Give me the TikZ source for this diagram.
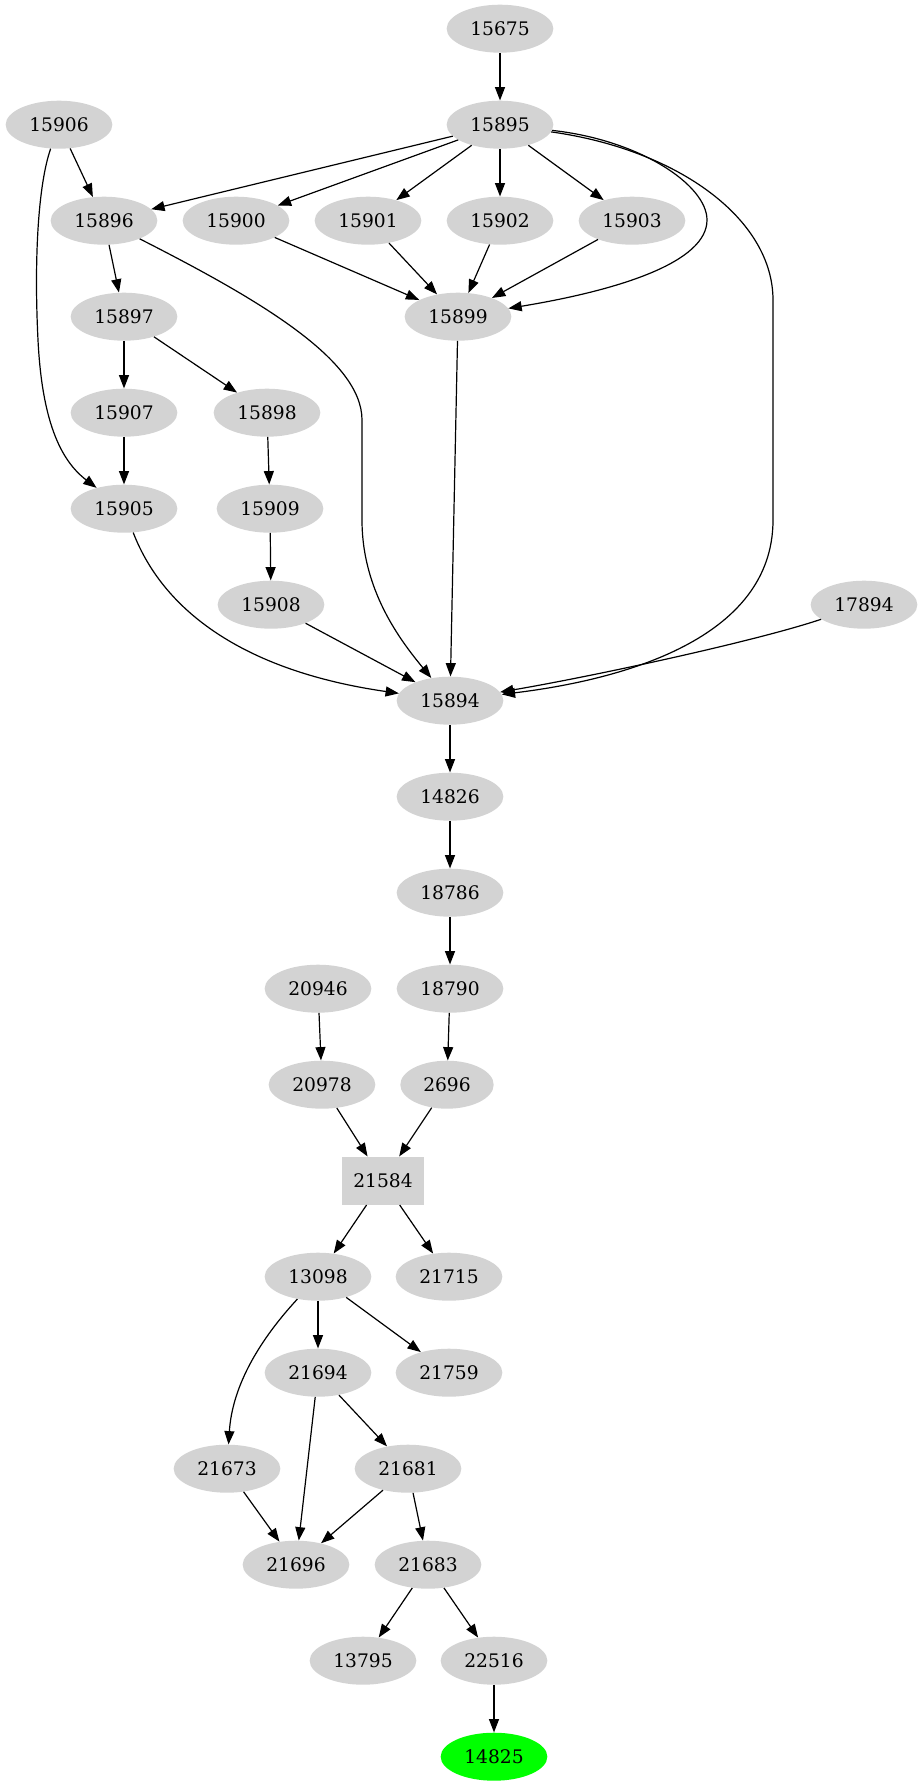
\documentclass[tikz,border=0pt]{standalone}
\usepackage{fontspec}
\setmainfont{DejaVu Serif}
\usepackage{tikz}
\usetikzlibrary{shapes.geometric,arrows.meta}
\definecolor{nodegray}{RGB}{211,211,211}
\definecolor{goalgreen}{RGB}{0,255,0}

\begin{document}
\begin{tikzpicture}[x=0.75pt,y=-0.75pt,
    vert/.style={ellipse,fill=nodegray,inner sep=0pt,minimum width=80pt,minimum height=36pt,font=\fontsize{14pt}{16pt}\selectfont},
    rootbox/.style={rectangle,fill=nodegray,inner sep=0pt,minimum width=61.5pt,minimum height=36pt,font=\fontsize{14pt}{16pt}\selectfont},
    link/.style={-{Triangle[length=10pt,width=7.5pt]},line width=0.9pt}]

    \useasboundingbox (0,0) rectangle (923,1787);

    \node[vert] (n15675) at (500,28.7) {15675};
    \node[vert] (n15906) at (59,124.7) {15906};
    \node[vert] (n15895) at (500,124.7) {15895};
    \node[vert] (n15896) at (104,220.7) {15896};
    \node[vert] (n15900) at (236,220.7) {15900};
    \node[vert] (n15901) at (368,220.7) {15901};
    \node[vert] (n15902) at (500,220.7) {15902};
    \node[vert] (n15903) at (632,220.7) {15903};
    \node[vert] (n15897) at (124,316.7) {15897};
    \node[vert] (n15899) at (458,316.7) {15899};
    \node[vert] (n15907) at (124,412.7) {15907};
    \node[vert] (n15898) at (267,412.7) {15898};
    \node[vert] (n15905) at (124,508.7) {15905};
    \node[vert] (n15909) at (270,508.7) {15909};
    \node[vert] (n15908) at (271,604.7) {15908};
    \node[vert] (n17894) at (864,604.7) {17894};
    \node[vert] (n15894) at (450,700.7) {15894};
    \node[vert] (n14826) at (450,796.7) {14826};
    \node[vert] (n18786) at (450,892.7) {18786};
    \node[vert] (n20946) at (318,988.7) {20946};
    \node[vert] (n18790) at (450,988.7) {18790};
    \node[vert] (n20978) at (322,1084.7) {20978};
    \node[vert,minimum width=70pt] (n2696) at (447,1084.7) {2696};
    \node[rootbox] (n21584) at (383,1180.7) {21584};
    \node[vert] (n13098) at (318,1276.7) {13098};
    \node[vert] (n21715) at (449,1276.7) {21715};
    \node[vert] (n21694) at (318,1372.7) {21694};
    \node[vert] (n21759) at (449,1372.7) {21759};
    \node[vert] (n21673) at (227,1468.7) {21673};
    \node[vert] (n21681) at (408,1468.7) {21681};
    \node[vert] (n21696) at (296,1564.7) {21696};
    \node[vert] (n21683) at (428,1564.7) {21683};
    \node[vert] (n13795) at (363,1660.7) {13795};
    \node[vert] (n22516) at (494,1660.7) {22516};
    \node[vert,fill=goalgreen] (n14825) at (494,1756.7) {14825};

    \draw[link] (n15675) -- (n15895);
    \draw[link] (n15906) -- (n15896);
    \draw[link] (n15906) .. controls (38,185) and (34,260) .. (38,340) .. controls (42,420) and (60,460) .. (n15905);
    \draw[link] (n15895) -- (n15896);
    \draw[link] (n15895) -- (n15900);
    \draw[link] (n15895) -- (n15901);
    \draw[link] (n15895) -- (n15902);
    \draw[link] (n15895) -- (n15903);
    \draw[link] (n15895) .. controls (640,140) and (707,185) .. (707,220) .. controls (707,262) and (620,290) .. (n15899);
    \draw[link] (n15895) .. controls (680,150) and (773,220) .. (773,300) -- (773,520) .. controls (773,640) and (620,680) .. (n15894);
    \draw[link] (n15896) -- (n15897);
    \draw[link] (n15896) .. controls (260,300) and (362,360) .. (362,420) -- (362,520) .. controls (362,590) and (400,640) .. (n15894);
    \draw[link] (n15900) -- (n15899);
    \draw[link] (n15901) -- (n15899);
    \draw[link] (n15902) -- (n15899);
    \draw[link] (n15903) -- (n15899);
    \draw[link] (n15897) -- (n15907);
    \draw[link] (n15897) -- (n15898);
    \draw[link] (n15899) -- (n15894);
    \draw[link] (n15907) -- (n15905);
    \draw[link] (n15898) -- (n15909);
    \draw[link] (n15909) -- (n15908);
    \draw[link] (n15905) .. controls (165,615) and (250,672) .. (n15894);
    \draw[link] (n15908) -- (n15894);
    \draw[link] (n17894) .. controls (760,640) and (600,675) .. (n15894);
    \draw[link] (n15894) -- (n14826);
    \draw[link] (n14826) -- (n18786);
    \draw[link] (n18786) -- (n18790);
    \draw[link] (n20946) -- (n20978);
    \draw[link] (n18790) -- (n2696);
    \draw[link] (n20978) -- (n21584);
    \draw[link] (n2696) -- (n21584);
    \draw[link] (n21584) -- (n13098);
    \draw[link] (n21584) -- (n21715);
    \draw[link] (n13098) -- (n21694);
    \draw[link] (n13098) -- (n21759);
    \draw[link] (n13098) .. controls (255,1345) and (232,1390) .. (n21673);
    \draw[link] (n21694) -- (n21696);
    \draw[link] (n21694) -- (n21681);
    \draw[link] (n21673) -- (n21696);
    \draw[link] (n21681) -- (n21696);
    \draw[link] (n21681) -- (n21683);
    \draw[link] (n21683) -- (n13795);
    \draw[link] (n21683) -- (n22516);
    \draw[link] (n22516) -- (n14825);

\end{tikzpicture}
\end{document}
